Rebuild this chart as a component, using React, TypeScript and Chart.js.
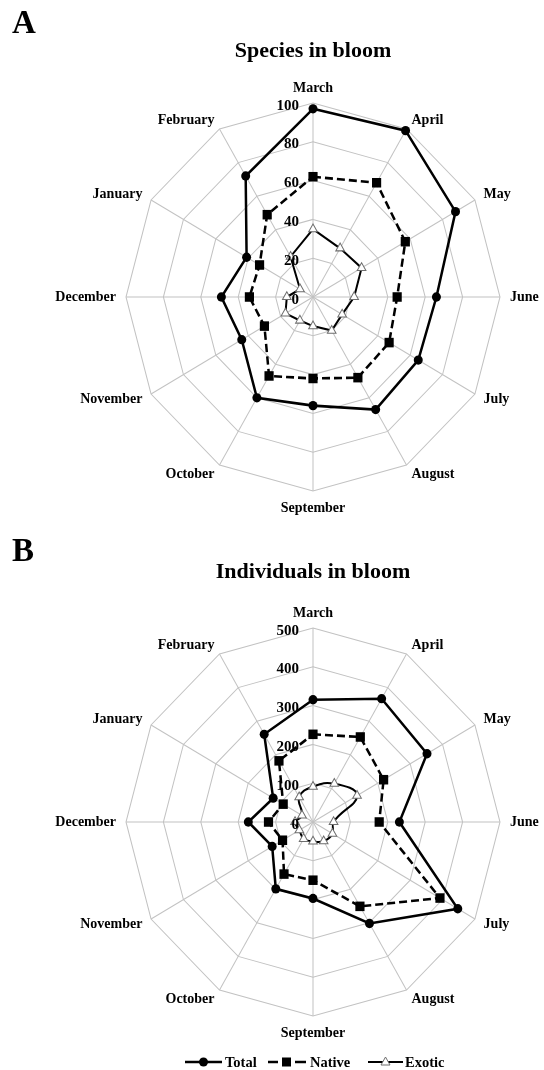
import React, { useEffect, useRef } from "react";
import { Chart, registerables } from "chart.js";

Chart.register(...registerables);

// ---------- data ----------
const months = [
  "March", "April", "May", "June", "July", "August",
  "September", "October", "November", "December", "January", "February",
];

const speciesTotal = [97, 99, 88, 66, 65, 67, 56, 60, 44, 49, 41, 72];
const speciesNative = [62, 68, 57, 45, 47, 48, 42, 47, 30, 34, 33, 49];
const speciesExotic = [35, 29, 30, 22, 18, 20, 15, 14, 17, 14, 8, 24];
const speciesTicks = [0, 20, 40, 60, 80, 100];

const individualsTotal = [315, 367, 352, 231, 447, 302, 197, 199, 126, 173, 123, 261];
const individualsNative = [226, 253, 218, 177, 392, 251, 150, 155, 94, 119, 92, 182];
const individualsExotic = [91, 114, 136, 55, 60, 57, 50, 50, 42, 48, 34, 74];
const individualsTicks = [0, 100, 200, 300, 400, 500];

const legendNames = ["Total", "Native", "Exotic"];

// ---------- style ----------
const FONT = '"Liberation Serif", "Times New Roman", serif';
const STRETCH = 194 / 187;
const GRID = "#c2c2c2";

function ellipsePlugin(tickValues: number[]) {
  return {
    id: "ellipseRadar",
    beforeDraw(chart: any) {
      const s = chart.scales.r;
      const ctx = chart.ctx;
      ctx.save();
      ctx.translate(0, s.yCenter);
      ctx.scale(1, STRETCH);
      ctx.translate(0, -s.yCenter);
    },
    afterDatasetsDraw(chart: any) {
      chart.ctx.restore();
    },
    afterDraw(chart: any) {
      const s = chart.scales.r;
      const ctx = chart.ctx;
      const cx = s.xCenter;
      const cy = s.yCenter;
      ctx.save();
      ctx.fillStyle = "#000";
      ctx.font = `bold 14px ${FONT}`;
      const labels = chart.data.labels;
      for (let i = 0; i < labels.length; i++) {
        const p = s.getPointPosition(i, s.drawingArea + 10);
        const x = p.x;
        let y = cy + (p.y - cy) * STRETCH;
        const a = s.getIndexAngle(i);
        const sn = Math.sin(a);
        const cs = Math.cos(a);
        ctx.textAlign = Math.abs(sn) < 0.01 ? "center" : sn > 0 ? "left" : "right";
        if (cs > 0.99) {
          ctx.textBaseline = "alphabetic";
          y -= 1;
        } else if (cs < -0.99) {
          ctx.textBaseline = "top";
        } else {
          ctx.textBaseline = "middle";
        }
        ctx.fillText(String(labels[i]), x, y);
      }
      ctx.font = `bold 15px ${FONT}`;
      ctx.textAlign = "right";
      ctx.textBaseline = "alphabetic";
      tickValues.forEach((v) => {
        const ry = cy - s.getDistanceFromCenterForValue(v) * STRETCH;
        ctx.fillText(String(v), cx - 14, ry + 6.5);
      });
      ctx.restore();
    },
  };
}

function RadarCanvas(props: {
  top: number;
  height: number;
  total: number[];
  native: number[];
  exotic: number[];
  ticks: number[];
  smoothExotic: boolean;
}) {
  const ref = useRef<HTMLCanvasElement | null>(null);
  useEffect(() => {
    if (!ref.current) return;
    const t = props.ticks;
    const chart = new Chart(ref.current, {
      type: "radar",
      data: {
        labels: months,
        datasets: [
          {
            label: legendNames[0],
            data: props.total,
            borderColor: "#000",
            backgroundColor: "#000",
            borderWidth: 2.5,
            pointStyle: "circle",
            pointRadius: 4.5,
            pointBackgroundColor: "#000",
            pointBorderColor: "#000",
            pointBorderWidth: 0,
            fill: false,
            clip: false,
            tension: 0,
          } as any,
          {
            label: legendNames[1],
            data: props.native,
            borderColor: "#000",
            backgroundColor: "#000",
            borderWidth: 2.5,
            borderDash: [8, 4],
            pointStyle: "rect",
            pointRadius: 6.5,
            pointBackgroundColor: "#000",
            pointBorderColor: "#000",
            pointBorderWidth: 0,
            fill: false,
            clip: false,
            tension: 0,
          } as any,
          {
            label: legendNames[2],
            data: props.exotic,
            borderColor: "#000",
            backgroundColor: "#fff",
            borderWidth: 2,
            pointStyle: "triangle",
            pointRadius: 5,
            pointBackgroundColor: "#fff",
            pointBorderColor: "#6e6e6e",
            pointBorderWidth: 1,
            fill: false,
            clip: false,
            tension: props.smoothExotic ? 0.45 : 0,
          } as any,
        ],
      },
      options: {
        responsive: false,
        animation: false,
        events: [],
        layout: {
          padding: { left: 126, right: 44, top: 110, bottom: props.height - 110 - 374 },
        },
        plugins: {
          legend: { display: false },
          tooltip: { enabled: false },
          title: { display: false },
        },
        scales: {
          r: {
            min: t[0],
            max: t[t.length - 1],
            ticks: { stepSize: t[1] - t[0], display: false },
            pointLabels: { display: false },
            grid: { color: GRID, lineWidth: 1, circular: false },
            angleLines: { color: GRID, lineWidth: 1 },
          },
        },
      } as any,
      plugins: [ellipsePlugin(t)],
    });
    return () => chart.destroy();
  }, []);
  return (
    <canvas
      ref={ref}
      width={544}
      height={props.height}
      style={{ position: "absolute", left: 0, top: props.top, width: 544, height: props.height }}
    />
  );
}

export default function App() {
  const textStyle = { fontFamily: FONT, fontWeight: 700 as any, fill: "#000" };
  const ly = 1062;
  return (
    <div style={{ position: "absolute", left: 0, top: 0, width: 544, height: 1070, background: "#fff", overflow: "hidden" }}>
      <RadarCanvas top={0} height={530} total={speciesTotal} native={speciesNative} exotic={speciesExotic} ticks={speciesTicks} smoothExotic={false} />
      <RadarCanvas top={525} height={545} total={individualsTotal} native={individualsNative} exotic={individualsExotic} ticks={individualsTicks} smoothExotic={true} />
      <svg width={544} height={1070} style={{ position: "absolute", left: 0, top: 0 }}>
        <text x={12} y={33} style={{ ...textStyle, fontSize: 33 }}>A</text>
        <text x={313} y={57} textAnchor="middle" style={{ ...textStyle, fontSize: 22 }}>Species in bloom</text>
        <text x={12} y={561} style={{ ...textStyle, fontSize: 33 }}>B</text>
        <text x={313} y={578} textAnchor="middle" style={{ ...textStyle, fontSize: 22 }}>Individuals in bloom</text>

        <line x1={185} x2={222} y1={ly} y2={ly} stroke="#000" strokeWidth={2.5} />
        <circle cx={203.5} cy={ly} r={4.5} fill="#000" />
        <text x={225} y={ly + 5} style={{ ...textStyle, fontSize: 14.5 }}>{legendNames[0]}</text>

        <line x1={268} x2={278} y1={ly} y2={ly} stroke="#000" strokeWidth={2.5} />
        <line x1={295} x2={306} y1={ly} y2={ly} stroke="#000" strokeWidth={2.5} />
        <rect x={282} y={ly - 4.5} width={9} height={9} fill="#000" />
        <text x={310} y={ly + 5} style={{ ...textStyle, fontSize: 14.5 }}>{legendNames[1]}</text>

        <line x1={368} x2={403} y1={ly} y2={ly} stroke="#000" strokeWidth={2} />
        <polygon points={`385.5,${ly - 5} 390,${ly + 3} 381,${ly + 3}`} fill="#fff" stroke="#6e6e6e" strokeWidth={1} />
        <text x={405} y={ly + 5} style={{ ...textStyle, fontSize: 14.5 }}>{legendNames[2]}</text>
      </svg>
    </div>
  );
}
